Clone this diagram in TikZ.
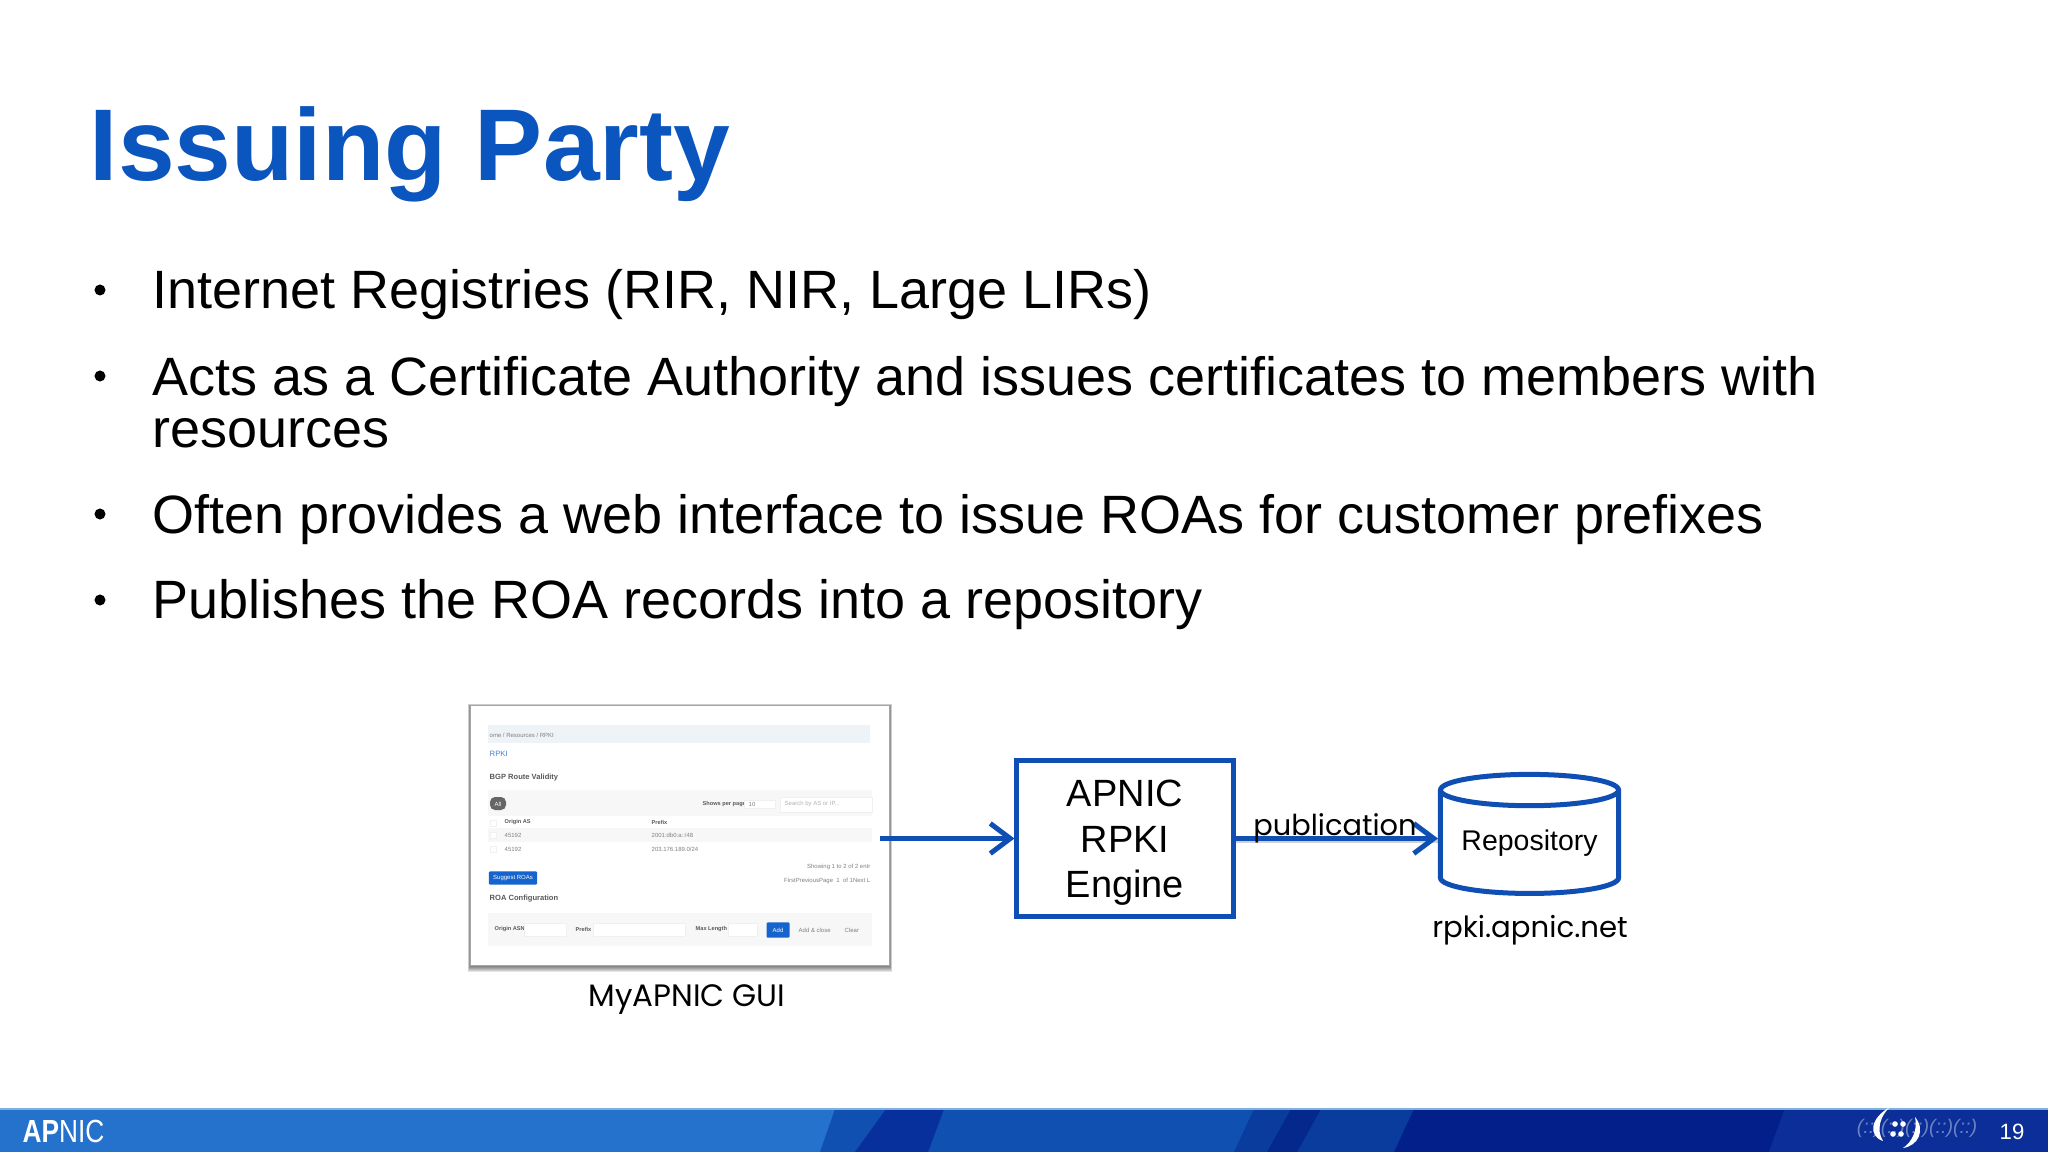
\documentclass[tikz,border=0pt]{standalone}
\usepackage{fontspec}
\setmainfont{Liberation Sans}
\newfontfamily\gothicfont{Poppins}
\usetikzlibrary{shapes.geometric,arrows.meta}

\definecolor{apnicblue}{HTML}{0B55BE}
\definecolor{linkblue}{HTML}{0F4FB4}
\definecolor{barblue}{HTML}{2472CC}
\definecolor{bandmid}{HTML}{1050B0}
\definecolor{banddeep}{HTML}{08309C}
\definecolor{bandnavy}{HTML}{0B2E98}
\definecolor{bandside}{HTML}{0A3C9E}
\definecolor{bandink}{HTML}{04288C}
\definecolor{banddark}{HTML}{03208A}
\definecolor{guiblue}{HTML}{1563CC}
\definecolor{guibar}{HTML}{EEF3F7}
\definecolor{toprule}{HTML}{7FB0E0}

\tikzset{
    bullettext/.style={anchor=base west, inner sep=0pt, align=left, font=\fontsize{15.35}{14.8}\selectfont},
    bulletdot/.style={circle, fill=black, inner sep=0pt, minimum size=0.11cm},
    linkarrow/.style={draw=linkblue, line width=0.05cm, -{Straight Barb[length=0.2cm,width=0.3cm,line width=0.05cm]}},
    caption/.style={anchor=base, inner sep=0pt, font=\gothicfont\fontsize{8.3}{10}\selectfont},
    guitext/.style={anchor=west, inner sep=0pt, text=black!50, font=\fontsize{1.7}{2}\selectfont},
    guibold/.style={guitext, text=black!65, font=\bfseries\fontsize{1.6}{2}\selectfont},
    guihead/.style={guitext, text=black!65, font=\bfseries\fontsize{2.15}{3}\selectfont},
    guiband/.style={fill=black!3, draw=none},
    guifield/.style={fill=white, draw=black!6, line width=0.005cm},
    guibutton/.style={fill=guiblue, rounded corners=0.01cm, inner sep=0pt, text=white, font=\fontsize{1.7}{2}\selectfont},
    footertext/.style={inner sep=0pt, text=white},
    ringsmall/.style={inner sep=0pt, text=white, opacity=.4, font=\fontsize{5.6}{6}\selectfont\itshape},
}

\begin{document}
\begin{tikzpicture}[x=0.01cm, y=-0.01cm]
    \useasboundingbox (0, 0) rectangle (2048, 1152);

    % Title
    \node[anchor=base west, inner sep=0pt, text=apnicblue, font=\bfseries\fontsize{29}{32}\selectfont] (title) at (89, 181) {Issuing Party};

    % Bullets
    \node[bulletdot] (dota) at (100, 290) {};
    \node[bullettext] (itema) at (152, 309) {Internet Registries (RIR, NIR, Large LIRs)};
    \node[bulletdot] (dotb) at (100, 376) {};
    \node[bullettext] (itemb) at (152, 448) {Acts as a Certificate Authority and issues certificates to members with\\resources};
    \node[bulletdot] (dotc) at (100, 514) {};
    \node[bullettext] (itemc) at (152, 534) {Often provides a web interface to issue ROAs for customer prefixes};
    \node[bulletdot] (dotd) at (100, 600) {};
    \node[bullettext] (itemd) at (152, 619) {Publishes the ROA records into a repository};

    % Screenshot with soft shadow
    \foreach \r in {1,2,...,6}
        \fill[black, opacity=.1] (470-\r/3, 706-\r/3) rectangle (890+\r/3, 966+\r);
    \node[fill=white, draw=black!35, line width=0.015cm, minimum width=4.19cm, minimum height=2.6cm, inner sep=0pt] (gui) at (680, 835.5) {};

    % Screenshot content
    \fill[guibar] (488, 725) rectangle (870, 743);
    \node[guitext] (crumb) at (489, 735) {ome / Resources / RPKI};
    \node[guitext, text=guiblue!80, font=\fontsize{2.2}{3}\selectfont] (rpkihead) at (489, 754) {RPKI};
    \node[guihead] (validity) at (489, 778) {BGP Route Validity};

    \fill[guiband] (488, 790) rectangle (872, 816);
    \fill[black!60, rounded corners=0.05cm] (490, 797) rectangle (506, 810);
    \node[guitext, text=white] (allbtn) at (494, 804) {All};
    \node[guibold] (perpage) at (702, 804) {Shows per page:};
    \draw[guifield] (744, 800) rectangle (775, 808);
    \node[guitext] (perpagenum) at (748, 804) {10};
    \draw[guifield] (780, 797) rectangle (872, 812);
    \node[guitext, text=black!30] (search) at (784, 804) {Search by AS or IP...};

    \draw[guifield] (490, 820) rectangle (496, 826);
    \node[guibold] (originhead) at (504, 822) {Origin AS};
    \node[guibold] (prefixhead) at (651, 822) {Prefix};
    \fill[guiband] (488, 828) rectangle (872, 842);
    \draw[guifield] (490, 832) rectangle (496, 838);
    \node[guitext] (origina) at (504, 835) {45192};
    \node[guitext] (prefixa) at (651, 835) {2001:db0:a::/48};
    \draw[guifield] (490, 846) rectangle (496, 852);
    \node[guitext] (originb) at (504, 849) {45192};
    \node[guitext] (prefixb) at (651, 849) {203.176.189.0/24};

    \node[guitext, anchor=east] (showing) at (871, 867) {Showing 1 to 2 of 2 entr};
    \node[guitext, anchor=east] (pager) at (871, 881) {FirstPreviousPage\ \ 1\ \ of 1Next L};
    \node[guibutton, minimum width=0.48cm, minimum height=0.13cm] (suggest) at (513, 878) {Suggest ROAs};

    \node[guihead] (roahead) at (489, 899) {ROA Configuration};
    \fill[guiband] (488, 913) rectangle (872, 946);
    \node[guibold] (asnlabel) at (494, 929) {Origin ASN};
    \draw[guifield] (524, 923) rectangle (566, 936);
    \node[guibold] (prefixlabel) at (575, 929) {Prefix};
    \draw[guifield] (593, 923) rectangle (685, 936);
    \node[guibold] (maxlabel) at (695, 929) {Max Length};
    \draw[guifield] (728, 923) rectangle (757, 936);
    \node[guibutton, minimum width=0.23cm, minimum height=0.15cm] (addbtn) at (778, 930) {Add};
    \node[guitext] (closebtn) at (798, 930) {Add \& close};
    \node[guitext] (clearbtn) at (844, 930) {Clear};

    % Caption under screenshot
    \node[caption, font=\gothicfont\fontsize{8.8}{10}\selectfont] (guicap) at (687, 1006) {MyAPNIC GUI};

    % Engine and repository
    \node[draw=linkblue, line width=0.05cm, minimum width=2.16cm, minimum height=1.55cm, inner sep=0pt, align=center, font=\fontsize{10.8}{12.95}\selectfont] (engine) at (1125, 838.5) {\rule{0pt}{10pt}APNIC\\RPKI\\Engine};
    \node[draw=linkblue, line width=0.05cm, cylinder, shape border rotate=90, aspect=0.23, minimum width=1.78cm, minimum height=1.19cm, inner sep=0pt, font=\fontsize{8.1}{10}\selectfont] (repo) at (1529.5, 843) {Repository};
    \node[caption] (repocap) at (1530, 937) {rpki.apnic.net};

    % Arrows
    \coordinate (guiout) at (880, 838.5);
    \draw[linkarrow] (guiout) -- (guiout -| engine.west);
    \draw[black, opacity=.18, line width=0.05cm] ([yshift=-0.02cm]engine.east) -- ([yshift=-0.02cm]engine.east -| repo.west);
    \draw[linkarrow] (engine.east) -- (engine.east -| repo.west);
    \node[caption, font=\gothicfont\fontsize{8.2}{10}\selectfont] (pubcap) at (1335, 835) {publication};

    % Footer bar
    \fill[barblue] (0, 1109) rectangle (2048, 1152);
    \fill[bandmid] (835, 1109) -- (2048, 1109) -- (2048, 1152) -- (820, 1152) -- cycle;
    \fill[banddeep] (886, 1109) -- (944, 1109) -- (928, 1152) -- (855, 1152) -- cycle;
    \fill[bandside] (1254, 1109) -- (1785, 1109) -- (1769, 1152) -- (1234, 1152) -- cycle;
    \fill[bandink] (1291, 1109) -- (1321, 1109) -- (1297, 1152) -- (1267, 1152) -- cycle;
    \fill[banddark] (1414, 1109) -- (1785, 1109) -- (1769, 1152) -- (1394, 1152) -- cycle;
    \fill[bandnavy] (1785, 1109) -- (2048, 1109) -- (2048, 1152) -- (1769, 1152) -- cycle;
    \draw[toprule, line width=0.015cm] (0, 1109) -- (2048, 1109);

    % Footer marks
    \node[footertext, anchor=base west, font=\fontsize{9.1}{10}\selectfont] (logo) at (22, 1142) {\scalebox{.82}[1]{\textbf{AP}NIC}};
    \node[footertext, anchor=base, font=\fontsize{6.3}{7}\selectfont] (pagenum) at (2012, 1139) {19};
    \node[ringsmall, anchor=center] (rings) at (1917, 1128) {(::)(::)(::)(::)(::)};
    \fill[white] (1890, 1107) .. controls (1870, 1118) and (1868, 1136) .. (1883, 1141) .. controls (1876, 1130) and (1880, 1116) .. cycle;
    \fill[white] (1915, 1117) .. controls (1926, 1130) and (1918, 1146) .. (1903, 1148) .. controls (1912, 1142) and (1918, 1130) .. cycle;
    \foreach \px/\py in {1895/1124, 1903/1124, 1893/1134, 1901/1134}
        \fill[white] (\px, \py) circle (0.028cm);
\end{tikzpicture}
\end{document}
